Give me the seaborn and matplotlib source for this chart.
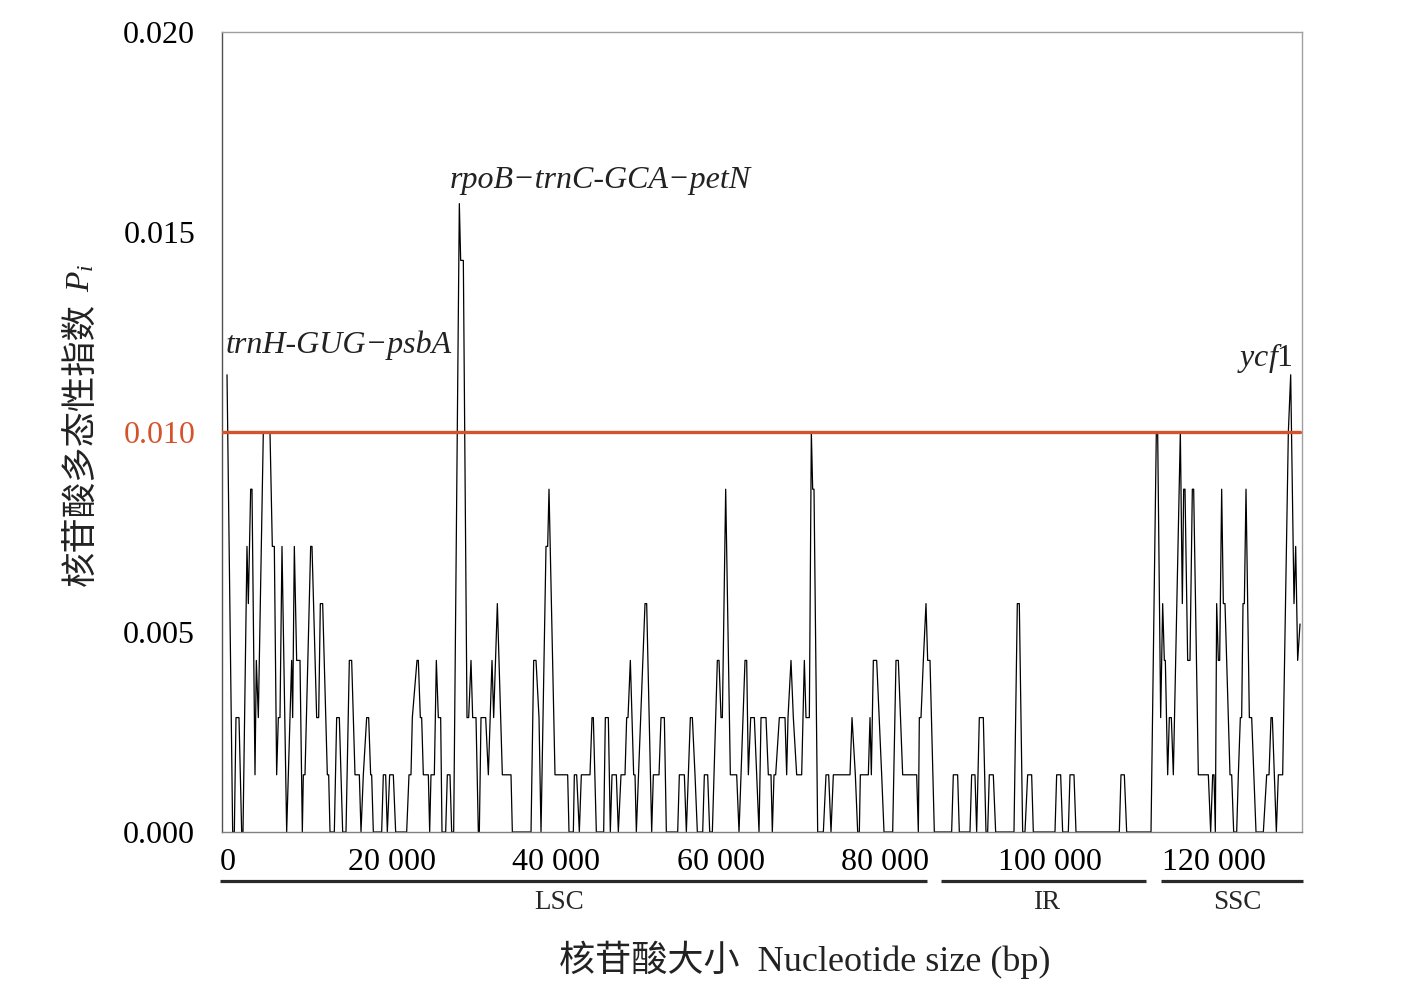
import numpy as np
import pandas as pd
import matplotlib
matplotlib.use("Agg")
import matplotlib.pyplot as plt
import matplotlib.transforms as mtransforms
import seaborn as sns

# ---------------- data (sliding-window nucleotide diversity) ----------------
pos_a = [550, 1237, 1440, 1642, 2007, 2332, 2494, 2980, 3143, 3427, 3589, 3954, 4116, 4359, 4967, 5778,
         6062, 6305, 6589, 6792, 6995, 7238, 7806, 8414, 8536, 8739, 9022, 9428, 9712, 9834, 10036,
         10726, 10888, 11456, 11699, 11902, 12186, 12754, 12916, 13078, 13605, 13889, 14213, 14619,
         15024, 15429, 15713, 16119, 16646, 16849, 17132, 17538, 17781, 18024, 18146, 18349, 19362,
         19565, 19849, 20052, 20335, 20781, 21065]
pi_a = [.01143, 0, 0, .00286, .00286, 0, 0, .00714, .00571, .00857,
        .00857, .00143, .00429, .00286, .0100, .0100, .00714, .00714, .00143, .00286,
        .00286, .00714, 0, .00429, .00286, .00714, .00429, .00429, 0, .00143,
        .00143, .00714, .00714, .00286, .00286, .00571, .00571, .00143, .00143, 0,
        0, .00286, .00286, 0, 0, .00429, .00429, .00143, .00143, 0,
        .00143, .00286, .00286, .00143, .00143, 0, 0, .00143, .00143, 0,
        .00143, .00143, 0]

pos_b = [22404, 22688, 22931, 23093, 23661, 23823, 24066, 24229, 24432, 25040, 25202, 25364, 25770,
         26013, 26257, 26540, 26702, 27148, 27351, 27676, 27878, 28122, 28811, 28973, 29298, 29744,
         29947, 30231, 30433, 30839, 31123, 31245, 31447, 32015, 32340, 32786, 32988, 33435, 34043,
         35097, 35260, 37531, 37855, 38139, 38504, 38747, 39355, 39558, 39720, 40449, 41990, 42152,
         42680, 42801, 43085]
pi_b = [0, .00143, .00143, .00286, .00429, .00429, .00286, .00286, .00143, .00143,
        0, .00143, .00143, .00429, .00286, .00286, 0, 0, .00143, .00143,
        0, 0, .01571, .01429, .01429, .00286, .00286, .00429, .00286, .00286,
        0, 0, .00286, .00286, .00143, .00429, .00286, .00571, .00143, .00143,
        0, 0, .00429, .00429, .00286, 0, .00714, .00714, .00857, .00143,
        .00143, 0, 0, .00143, .00143]

pos_c = [43409, 43652, 44706, 44950, 45112, 45477, 46369, 46572, 46937, 47180, 47383, 47910, 48154,
         48478, 48965, 49167, 49330, 49614, 50019, 50182, 50344, 51398, 51601, 52210, 52412, 53102,
         53345, 53751, 53994, 55373, 55576, 56184, 56427, 56914, 57157, 57481, 57765, 58414, 58617,
         59022, 59266, 59590, 60198, 60401, 60644, 60807, 61212, 61780, 62550, 62834, 63564, 63767,
         63969, 64253, 64699, 65267, 65510]
pi_c = [0, .00143, .00143, .00286, .00286, 0, 0, .00286, .00286, 0,
        .00143, .00143, 0, .00143, .00143, .00286, .00286, .00429, .00143, .00143,
        0, .00571, .00571, 0, .00143, .00143, .00286, .00286, 0, 0,
        .00143, .00143, 0, .00286, .00286, .00143, 0, 0, .00143, .00143,
        0, 0, .00429, .00429, .00286, .00286, .00857, .00143, .00143, 0,
        .00429, .00429, .00143, .00286, .00286, 0, .00286]

pos_d = [66116, 66400, 66725, 66887, 67090, 67293, 67739, 68428, 68631, 68793, 69158, 69442, 69848,
         70456, 70780, 70983, 71389, 71632, 71794, 71956, 72402, 73092, 73416, 73740, 74024, 74308,
         76336, 76579, 76985, 77268, 77471, 77593, 78566, 78769, 78931, 79174, 79580, 80188, 80472,
         81526, 81931, 82215, 82742, 84445, 84648, 84769, 84972, 85256, 85580, 85783, 86067, 86594]
pi_d = [.00286, .00143, .00143, 0, .00143, .00143, .00286, .00286, .00143, .00286,
        .00429, .00286, .00143, .00143, .00429, .00286, .00286, .0100, .00857, .00857,
        0, 0, .00143, .00143, 0, .00143, .00143, .00286, .00143, 0,
        0, .00143, .00143, .00286, .00143, .00429, .00429, .00143, 0, 0,
        .00429, .00429, .00143, .00143, 0, .00286, .00286, .00429, .00571, .00429,
        .00429, 0]

pos_e = [88700, 88903, 89430, 89633, 90931, 91133, 91539, 91742, 92066, 92553, 92877, 93080, 93282,
         93769, 94053, 96283, 96689, 96932, 97338, 97621, 97946, 98433, 98636, 101271, 101474,
         101961, 102204, 102893, 103096, 103583, 103826, 109098, 109300]
pi_e = [0, .00143, .00143, 0, 0, .00143, .00143, 0, .00286, .00286,
        0, 0, .00143, .00143, 0, 0, .00571, .00571, 0, 0,
        .00143, .00143, 0, 0, .00143, .00143, 0, 0, .00143, .00143,
        0, 0, .00143]

pos_f = [109708, 109992, 112952, 113600, 113762, 114127, 114371, 114573, 114695, 114979, 115182,
         115425, 115668, 116520, 116763, 116925, 117087, 117411, 117695, 117979, 118141, 118709,
         119925, 120209, 120453, 120615, 120777, 120939, 121142, 121304, 121548, 121751, 121953,
         122359, 122562, 122765, 123008, 123373, 123576, 123819, 123981, 124144, 124306, 124509,
         124914, 125198, 125725, 126618, 127023, 127307, 127550, 127712, 127955, 128199, 128442,
         128969, 129659, 129943, 130348, 130551, 130794, 131078]
pi_f = [.00143, 0, 0, .0100, .0100, .00286, .00571, .00429, .00429, .00143,
        .00286, .00286, .00143, .0100, .00571, .00857, .00857, .00429, .00429, .00857,
        .00857, .00143, .00143, 0, .00143, .00143, 0, .00571, .00429, .00429,
        .00857, .00571, .00571, .00286, .00143, .00143, 0, 0, .00143, .00286,
        .00286, .00571, .00571, .00857, .00286, .00286, 0, 0, .00143, .00143,
        .00286, .00286, .00143, 0, .00143, .00143, .0100, .01143, .00571, .00714,
        .00429, .0052]

threshold = 0.010

x_tick_values = [0, 10000, 20000, 30000, 40000, 50000, 60000, 70000, 80000, 90000, 100000, 110000, 120000, 130000]
x_tick_labels = ["0", "", "20 000", "", "40 000", "", "60 000", "", "80 000", "", "100 000", "", "120 000", ""]
y_major = [0.000, 0.005, 0.010, 0.015, 0.020]
y_major_labels = ["0.000", "0.005", "0.010", "0.015", "0.020"]

regions = ["LSC", "IR", "SSC"]
region_start = [-300, 87400, 114150]
region_end = [85750, 112300, 131390]
region_label_x = [40900, 100300, 123500]

annot_text = ["trnH-GUG\u2212psbA", "rpoB\u2212trnC-GCA\u2212petN", "$ycf$1"]
annot_x = [430, 45950, 126800]
annot_y = [0.01218, 0.01630, 0.01185]
annot_ha = ["left", "center", "center"]
annot_style = ["italic", "italic", "normal"]

ylabel_cn = "核苷酸多态性指数"
ylabel_sym = "$P_i$"
xlabel_text = "核苷酸大小  Nucleotide size (bp)"

# ---------------- style ----------------
sns.set_theme(style="white")
plt.rcParams["font.family"] = ["Liberation Serif", "Noto Sans CJK SC", "DejaVu Sans"]
plt.rcParams["mathtext.fontset"] = "custom"
plt.rcParams["mathtext.rm"] = "Liberation Serif"
plt.rcParams["mathtext.it"] = "Liberation Serif:italic"
plt.rcParams["axes.unicode_minus"] = False

RED = "#d4532b"

positions = pos_a + pos_b + pos_c + pos_d + pos_e + pos_f
pis = pi_a + pi_b + pi_c + pi_d + pi_e + pi_f
df = pd.DataFrame({"pos": positions, "pi": pis})

fig = plt.figure(figsize=(14.1, 10.06), dpi=100)
ax = fig.add_axes([222 / 1410, 174 / 1006, 1080 / 1410, 800 / 1006])

sns.lineplot(data=df, x="pos", y="pi", ax=ax, color="black", linewidth=0.9,
             estimator=None, sort=False, zorder=2)
ax.axhline(threshold, xmin=0, xmax=0.998, color=RED, lw=2.4, zorder=3)

ax.set_xlim(-60, 131320)
ax.set_ylim(0, 0.020)
ax.set_xlabel("")
ax.set_ylabel("")

ax.set_xticks(x_tick_values)
ax.set_xticklabels(x_tick_labels)
ax.set_yticks(np.arange(0, 0.0201, 0.001), minor=True)
ax.set_yticks(y_major)
ax.set_yticklabels(y_major_labels)
ax.tick_params(axis="x", which="both", direction="out", length=7.2, width=0.8,
               color="#808080", labelsize=23, pad=4.5, labelcolor="black")
ax.tick_params(axis="y", which="both", direction="out", length=10.8, width=0.8,
               color="#808080", labelsize=23, pad=8.5, labelcolor="black")
ax.get_yticklabels()[2].set_color(RED)

# x tick labels sit slightly right of their ticks in the reference
shift = mtransforms.ScaledTranslation(5 / 100, 0, fig.dpi_scale_trans)
for lab in ax.get_xticklabels():
    lab.set_transform(lab.get_transform() + shift)

for side, col in [("left", "#505050"), ("bottom", "#808080"), ("top", "#a0a0a0"), ("right", "#a0a0a0")]:
    ax.spines[side].set_visible(True)
    ax.spines[side].set_color(col)
    ax.spines[side].set_linewidth(1.0)

# annotations
for t, x, y, ha, st in zip(annot_text, annot_x, annot_y, annot_ha, annot_style):
    ax.text(x, y, t, ha=ha, va="center", fontsize=23, fontstyle=st, color="#222222")

# region bars below the axis
trans = mtransforms.blended_transform_factory(ax.transData, ax.transAxes)
for name, s, e, lx in zip(regions, region_start, region_end, region_label_x):
    ax.plot([s, e], [-0.061, -0.061], transform=trans, color="#2a2a2a", lw=2.3,
            clip_on=False, solid_capstyle="butt")
    ax.text(lx, -0.0885, name, transform=trans, ha="center", va="center", fontsize=19.5)

# y label: Chinese part in a CJK font, symbol in serif italic
fig.text(81 / 1410, 1 - 586 / 1006, ylabel_cn, rotation=90, ha="center", va="bottom",
         fontsize=25.5, color="#222222", family=["Noto Sans CJK SC", "DejaVu Sans"])
fig.text(81 / 1410, 1 - 292 / 1006, ylabel_sym, rotation=90, ha="center", va="bottom",
         fontsize=24, color="#222222")

fig.text(805 / 1410, 1 - 960 / 1006, xlabel_text,
         ha="center", va="center", fontsize=26, color="#222222")

fig.savefig("out.png", dpi=100, facecolor="white")
